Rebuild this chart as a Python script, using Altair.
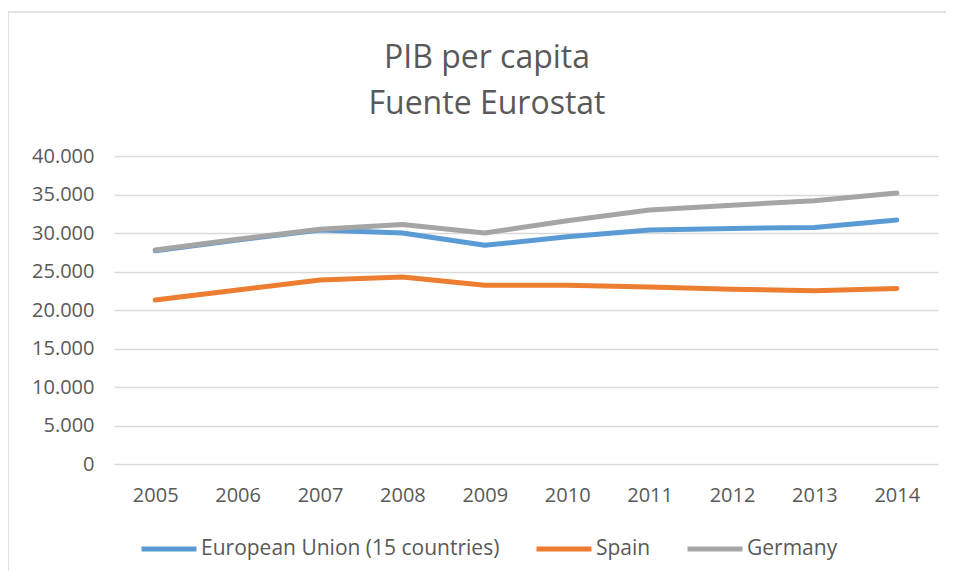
import altair as alt
import pandas as pd

years = [str(y) for y in range(2005, 2015)]
eu = [27700, 29100, 30400, 30000, 28400, 29500, 30400, 30600, 30700, 31700]
spain = [21300, 22600, 23900, 24300, 23200, 23200, 23000, 22700, 22500, 22800]
germany = [27800, 29200, 30500, 31100, 30000, 31600, 33000, 33600, 34200, 35200]

series_names = ["European Union (15 countries)", "Spain", "Germany"]
series_colors = ["#5B9BD5", "#ED7D31", "#A5A5A5"]
y_ticks = [0, 5000, 10000, 15000, 20000, 25000, 30000, 35000, 40000]

rows = []
for name, vals in zip(series_names, [eu, spain, germany]):
    for yr, v in zip(years, vals):
        rows.append({"year": yr, "value": v, "series": name})
df = pd.DataFrame(rows)

TXT = "#595959"
FONT = "Open Sans"

x_enc = alt.X("year:O", sort=years,
              scale=alt.Scale(type="point", padding=0.5),
              axis=alt.Axis(title=None, labelAngle=0, domain=False, ticks=False,
                            grid=False, labelFontSize=20, labelPadding=21,
                            labelColor=TXT, labelFont=FONT))
y_enc = alt.Y("value:Q", scale=alt.Scale(domain=[0, 40000], nice=False),
              axis=alt.Axis(title=None, values=y_ticks, domain=False, ticks=False,
                            gridColor="#d9d9d9", gridWidth=1.5, labelFontSize=20,
                            labelPadding=20, labelColor=TXT, labelFont=FONT,
                            labelExpr="replace(format(datum.value, ','), ',', '.')"))
color_enc = alt.Color("series:N",
                      scale=alt.Scale(domain=series_names, range=series_colors),
                      sort=series_names,
                      legend=alt.Legend(title=None, orient="none", legendX=25, legendY=363,
                                        direction="horizontal", symbolType="stroke",
                                        symbolSize=3025, symbolStrokeWidth=5,
                                        labelFontSize=21, labelFont=FONT, labelColor=TXT,
                                        labelLimit=500, columnPadding=26, labelOffset=2))

lines = []
for name in series_names:
    lines.append(
        alt.Chart(df).transform_filter(alt.datum.series == name)
        .mark_line(strokeWidth=5, strokeCap="round", strokeJoin="round")
        .encode(x=x_enc, y=y_enc, color=color_enc)
    )

frame_df = pd.DataFrame({"k": [0]})
frame_top = alt.Chart(frame_df).mark_rule(color="#d9d9d9", strokeWidth=1.5).encode(
    x=alt.value(-107), x2=alt.value(900), y=alt.value(-144))
frame_left = alt.Chart(frame_df).mark_rule(color="#d9d9d9", strokeWidth=1.5).encode(
    x=alt.value(-106), x2=alt.value(-106), y=alt.value(-144), y2=alt.value(520))

chart = alt.layer(frame_top, frame_left, *lines).properties(
    width=824, height=308,
    title=alt.TitleParams(text=["PIB per capita", "Fuente Eurostat"], fontSize=32,
                          font=FONT, fontWeight="normal", color=TXT, anchor="middle",
                          frame="group", lineHeight=46, offset=-110, dx=-39),
    autosize=alt.AutoSizeParams(type="none"),
    padding={"left": 106, "top": 148, "right": 8, "bottom": 107},
    background="white",
).configure_view(stroke=None)

chart.save("out.html", embed_options={"renderer": "svg", "actions": False})
